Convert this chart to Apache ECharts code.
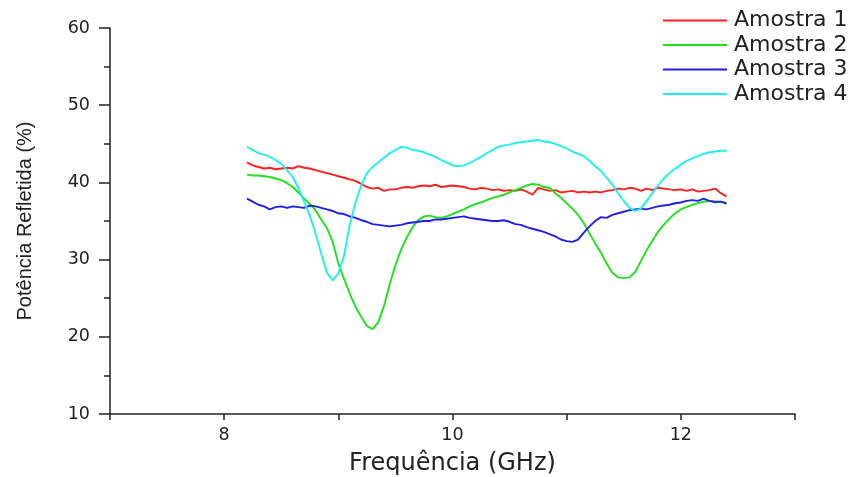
<!DOCTYPE html>
<html>
<head>
<meta charset="utf-8">
<script src="https://cdn.jsdelivr.net/npm/echarts@6/dist/echarts.min.js"></script>
<style>
  html, body { margin: 0; padding: 0; background: #fff; }
  #chart { width: 865px; height: 477px; }
</style>
</head>
<body>
<div id="chart"></div>
<script>
// frequencia (GHz)
var freq = [
  8.2, 8.25, 8.3, 8.35, 8.4, 8.45, 8.5, 8.55, 8.6, 8.65, 8.7, 8.75, 8.8, 8.85, 8.9, 8.95,
  9.0, 9.05, 9.1, 9.15, 9.2, 9.25, 9.3, 9.35, 9.4, 9.45, 9.5, 9.55, 9.6, 9.65, 9.7, 9.75, 9.8, 9.85, 9.9, 9.95,
  10.0, 10.05, 10.1, 10.15, 10.2, 10.25, 10.3, 10.35, 10.4, 10.45, 10.5, 10.55, 10.6, 10.65, 10.7, 10.75, 10.8, 10.85, 10.9, 10.95,
  11.0, 11.05, 11.1, 11.15, 11.2, 11.25, 11.3, 11.35, 11.4, 11.45, 11.5, 11.55, 11.6, 11.65, 11.7, 11.75, 11.8, 11.85, 11.9, 11.95,
  12.0, 12.05, 12.1, 12.15, 12.2, 12.25, 12.3, 12.35, 12.4
];

var amostra1 = [
  42.6, 42.2, 42.0, 41.8, 41.9, 41.7, 41.8, 41.9, 41.8, 42.1, 41.9, 41.8, 41.6, 41.4, 41.2, 41.0,
  40.8, 40.6, 40.4, 40.2, 39.8, 39.4, 39.2, 39.3, 38.9, 39.1, 39.1, 39.3, 39.4, 39.3, 39.5, 39.6, 39.5, 39.7, 39.4, 39.5,
  39.6, 39.5, 39.4, 39.2, 39.1, 39.3, 39.2, 39.0, 39.1, 38.9, 39.0, 38.9, 39.1, 38.8, 38.4, 39.3, 39.1, 38.9, 39.0, 38.7,
  38.8, 38.9, 38.7, 38.8, 38.7, 38.8, 38.7, 38.9, 39.0, 39.2, 39.1, 39.3, 39.2, 38.9, 39.2, 39.0, 39.3, 39.2, 39.1, 39.0,
  39.1, 38.9, 39.1, 38.8, 38.9, 39.0, 39.2, 38.6, 38.2
];

var amostra2 = [
  41.0, 40.9, 40.9, 40.8, 40.7, 40.5, 40.3, 39.9, 39.4, 38.7, 37.9, 37.2, 36.4, 35.2, 34.1, 32.3,
  29.5, 27.5, 25.6, 23.9, 22.6, 21.4, 21.0, 21.9, 24.0, 26.8, 29.3, 31.3, 32.9, 34.2, 35.1, 35.6, 35.7, 35.5, 35.4, 35.6,
  35.9, 36.2, 36.5, 36.9, 37.2, 37.4, 37.7, 38.0, 38.2, 38.4, 38.7, 39.0, 39.3, 39.6, 39.8, 39.7, 39.4, 39.3, 38.6, 38.0,
  37.3, 36.6, 35.8, 34.7, 33.4, 32.1, 30.9, 29.5, 28.3, 27.7, 27.6, 27.7, 28.4, 29.8, 31.2, 32.4, 33.6, 34.5, 35.3, 36.0,
  36.5, 36.8, 37.1, 37.3, 37.5, 37.6, 37.4, 37.5, 37.2
];

var amostra3 = [
  37.9, 37.5, 37.1, 36.9, 36.5, 36.8, 36.9, 36.7, 36.9, 36.8, 36.7, 37.0, 36.9, 36.7, 36.5, 36.3,
  36.0, 35.9, 35.6, 35.4, 35.1, 34.9, 34.6, 34.5, 34.4, 34.3, 34.4, 34.5, 34.7, 34.8, 34.9, 35.0, 35.0, 35.2, 35.2, 35.3,
  35.4, 35.5, 35.6, 35.4, 35.3, 35.2, 35.1, 35.0, 35.0, 35.1, 34.9, 34.6, 34.5, 34.2, 34.0, 33.8, 33.6, 33.3, 33.0, 32.6,
  32.4, 32.3, 32.6, 33.5, 34.3, 35.0, 35.5, 35.4, 35.8, 36.0, 36.2, 36.4, 36.5, 36.6, 36.5, 36.7, 36.9, 37.0, 37.1, 37.3,
  37.4, 37.6, 37.7, 37.6, 37.9, 37.6, 37.5, 37.5, 37.3
];

var amostra4 = [
  44.6, 44.2, 43.8, 43.6, 43.3, 42.9, 42.4, 41.6, 40.7, 39.3, 37.5, 35.7, 33.4, 30.8, 28.3, 27.3,
  28.2, 30.5, 34.5, 37.4, 39.6, 41.2, 42.0, 42.6, 43.2, 43.8, 44.2, 44.6, 44.5, 44.2, 44.1, 43.9, 43.6, 43.3, 42.9, 42.6,
  42.2, 42.1, 42.2, 42.5, 42.9, 43.3, 43.8, 44.2, 44.6, 44.8, 44.9, 45.1, 45.2, 45.3, 45.4, 45.5, 45.3, 45.2, 45.0, 44.7,
  44.4, 44.0, 43.7, 43.4, 42.8, 42.1, 41.5, 40.6, 39.7, 38.6, 37.6, 36.7, 36.3, 36.6, 37.6, 38.6, 39.6, 40.5, 41.2, 41.8,
  42.3, 42.8, 43.1, 43.4, 43.7, 43.9, 44.0, 44.1, 44.1
];

var names = ["Amostra 1", "Amostra 2", "Amostra 3", "Amostra 4"];
var colors = ["#ff1f1f", "#1fe01f", "#1f1fe6", "#1fefef"];
var yTicks = [10, 20, 30, 40, 50, 60];
var xLabels = [8, 10, 12];

var chart = echarts.init(document.getElementById("chart"));

var allData = [amostra1, amostra2, amostra3, amostra4];
var series = [];
for (var i = 0; i < allData.length; i++) {
  series.push({
    name: names[i],
    type: "line",
    symbol: "none",
    showSymbol: false,
    animation: false,
    lineStyle: { color: colors[i], width: 1.9 },
    itemStyle: { color: colors[i] },
    data: freq.map(function (f, k) { return [f, allData[i][k]]; })
  });
}

var axisColor = "#222";

var option = {
  backgroundColor: "#fff",
  animation: false,
  grid: { left: 110, right: 70, top: 28, bottom: 63, outerBoundsMode: "none" },
  legend: {
    orient: "vertical",
    left: 658,
    top: 4,
    icon: "rect",
    itemWidth: 64,
    itemHeight: 2,
    itemGap: 1.5,
    textStyle: {
      fontFamily: "DejaVu Sans",
      fontSize: 22,
      lineHeight: 23,
      color: "#222",
      padding: [0, 0, 0, 2]
    },
    data: names
  },
  xAxis: {
    type: "value",
    min: 7,
    max: 13,
    interval: 1,
    name: "Frequência (GHz)",
    nameLocation: "middle",
    nameGap: 38,
    nameTextStyle: { fontFamily: "DejaVu Sans", fontSize: 24, color: "#222" },
    axisLine: { show: true, lineStyle: { color: axisColor, width: 1.5 } },
    axisTick: { show: true, length: 6, lineStyle: { color: axisColor, width: 1.5 } },
    splitLine: { show: false },
    axisLabel: {
      margin: 12,
      fontFamily: "DejaVu Sans",
      fontSize: 17.5,
      color: "#222",
      formatter: function (v) { return xLabels.indexOf(v) >= 0 ? String(v) : ""; }
    }
  },
  yAxis: {
    type: "value",
    min: 10,
    max: 60,
    interval: 10,
    name: "Potência Refletida (%)",
    nameLocation: "middle",
    nameGap: 75,
    nameTextStyle: { fontFamily: "Liberation Sans", fontSize: 20, color: "#222" },
    axisLine: { show: true, lineStyle: { color: axisColor, width: 1.5 } },
    axisTick: { show: true, length: 11, lineStyle: { color: axisColor, width: 1.5 } },
    minorTick: { show: true, splitNumber: 2, length: 6, lineStyle: { color: axisColor, width: 1.5 } },
    splitLine: { show: false },
    axisLabel: {
      margin: 20,
      fontFamily: "DejaVu Sans",
      fontSize: 17.5,
      color: "#222",
      formatter: function (v) { return yTicks.indexOf(v) >= 0 ? String(v) : ""; }
    }
  },
  series: series
};

chart.setOption(option);
</script>
</body>
</html>
